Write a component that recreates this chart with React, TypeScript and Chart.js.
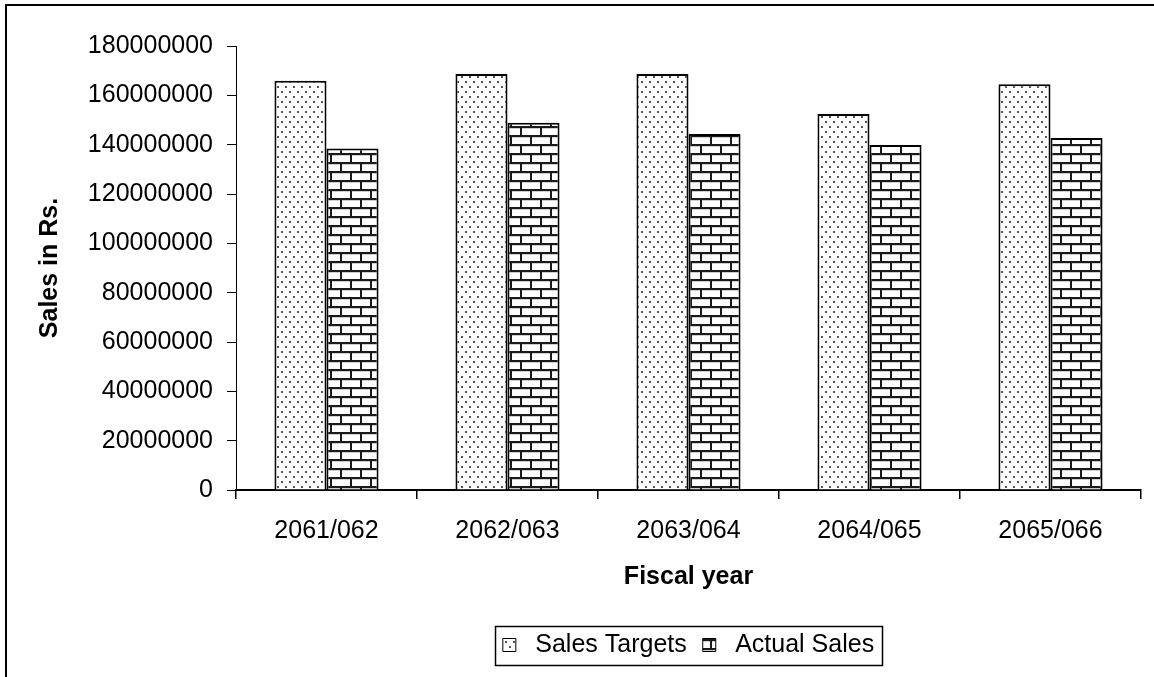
import React, { useEffect, useRef } from "react";
import { Chart, registerables } from "chart.js";

Chart.register(...registerables);

const categories = ["2061/062", "2062/063", "2063/064", "2064/065", "2065/066"];
const salesTargets = [165900000, 168600000, 168600000, 152400000, 164500000];
const actualSales = [138400000, 148900000, 144300000, 139900000, 142700000];
const seriesNames = ["Sales Targets", "Actual Sales"];
const yMax = 180000000;
const yStep = 20000000;

const FONT = "'Liberation Sans', Arial, sans-serif";
const FS = 25;

function makeDots(): CanvasPattern | string {
  const c = document.createElement("canvas");
  c.width = 8;
  c.height = 10;
  const g = c.getContext("2d");
  if (!g) return "#fff";
  g.fillStyle = "#ffffff";
  g.fillRect(0, 0, 8, 10);
  g.fillStyle = "#555555";
  g.fillRect(1, 1, 2, 2);
  g.fillRect(5, 6, 2, 2);
  return g.createPattern(c, "repeat") || "#fff";
}

function makeBricks(): CanvasPattern | string {
  const c = document.createElement("canvas");
  c.width = 20;
  c.height = 18;
  const g = c.getContext("2d");
  if (!g) return "#fff";
  g.fillStyle = "#ffffff";
  g.fillRect(0, 0, 20, 18);
  g.fillStyle = "#cfcfcf";
  g.fillRect(0, 2, 20, 1);
  g.fillRect(0, 11, 20, 1);
  g.fillStyle = "#1a1a1a";
  g.fillRect(0, 0, 20, 2);
  g.fillRect(0, 9, 20, 2);
  g.fillRect(0, 2, 2, 7);
  g.fillRect(10, 11, 2, 7);
  return g.createPattern(c, "repeat") || "#fff";
}

const framePlugin = {
  id: "frame",
  beforeDraw(chart: any) {
    const ctx = chart.ctx;
    ctx.save();
    ctx.fillStyle = "#ffffff";
    ctx.fillRect(0, 0, chart.width, chart.height);
    ctx.strokeStyle = "#000000";
    ctx.lineWidth = 2;
    ctx.strokeRect(6, 5, chart.width + 40, chart.height + 40);
    ctx.restore();
  },
  afterLayout(chart: any) {
    const lg = chart.legend;
    if (lg) {
      lg.left = chart.chartArea.left;
      lg.right = chart.chartArea.right;
    }
  },
  afterDraw(chart: any) {
    const lg = chart.legend;
    if (!lg || !lg.legendHitBoxes || !lg.legendHitBoxes.length) return;
    const hb = lg.legendHitBoxes;
    let l = Infinity, r = -Infinity, t = Infinity, b = -Infinity;
    hb.forEach((h: any) => {
      l = Math.min(l, h.left);
      r = Math.max(r, h.left + h.width);
      t = Math.min(t, h.top);
      b = Math.max(b, h.top + h.height);
    });
    const ctx = chart.ctx;
    ctx.save();
    ctx.strokeStyle = "#000000";
    ctx.lineWidth = 1.5;
    ctx.strokeRect(Math.round(l - 8) + 0.5, Math.round(t - 7) + 0.5, Math.round(r - l + 16), Math.round(b - t + 14));
    ctx.restore();
  },
};

export default function App() {
  const ref = useRef<HTMLCanvasElement>(null);

  useEffect(() => {
    if (!ref.current) return;
    const dots = makeDots();
    const bricks = makeBricks();
    const chart = new Chart(ref.current, {
      type: "bar",
      data: {
        labels: categories,
        datasets: [
          {
            label: seriesNames[0],
            data: salesTargets,
            backgroundColor: dots as any,
            borderColor: "#000000",
            borderWidth: 2,
            categoryPercentage: 0.575,
            barPercentage: 1,
          },
          {
            label: seriesNames[1],
            data: actualSales,
            backgroundColor: bricks as any,
            borderColor: "#000000",
            borderWidth: 2,
            categoryPercentage: 0.575,
            barPercentage: 1,
          },
        ],
      },
      options: {
        responsive: false,
        animation: false,
        layout: { padding: { left: 0, right: 13, top: 46, bottom: 9.5 } },
        plugins: {
          tooltip: { enabled: false },
          legend: {
            position: "bottom",
            labels: {
              color: "#000000",
              font: { family: FONT, size: FS },
              boxWidth: 13,
              boxHeight: 13,
              padding: 16,
              generateLabels(chart: any) {
                const items = Chart.defaults.plugins.legend.labels.generateLabels(chart);
                items.forEach((it: any) => {
                  it.text = " " + it.text;
                  it.lineWidth = 1;
                });
                return items;
              },
            },
          },
        },
        scales: {
          x: {
            afterFit(scale: any) {
              scale.height = 126.5;
            },
            grid: {
              display: true,
              drawOnChartArea: false,
              drawTicks: true,
              tickLength: 9,
              color: "#000000",
              lineWidth: 1.5,
              offset: true,
            },
            border: { display: true, color: "#000000", width: 2 },
            ticks: {
              color: "#000000",
              font: { family: FONT, size: FS },
              padding: 17,
              maxRotation: 0,
            },
            title: {
              display: true,
              text: "Fiscal year",
              color: "#000000",
              font: { family: FONT, size: FS, weight: "bold" },
              padding: { top: 0, bottom: 24.5 },
            },
          },
          y: {
            min: 0,
            max: yMax,
            afterFit(scale: any) {
              scale.width = 236;
            },
            grid: {
              display: true,
              drawOnChartArea: false,
              drawTicks: true,
              tickLength: 9,
              color: "#000000",
              lineWidth: 1,
            },
            border: { display: true, color: "#000000", width: 1 },
            ticks: {
              stepSize: yStep,
              color: "#000000",
              font: { family: FONT, size: FS },
              padding: 14,
              callback: (v: any) => String(v),
            },
            title: {
              display: true,
              text: "Sales in Rs.",
              color: "#000000",
              font: { family: FONT, size: FS, weight: "bold" },
              padding: { top: 35, bottom: 0 },
            },
          },
        },
      },
      plugins: [framePlugin],
    });
    return () => chart.destroy();
  }, []);

  return (
    <div style={{ position: "absolute", left: 0, top: 0, width: 1154, height: 677 }}>
      <canvas ref={ref} width={1154} height={677} />
    </div>
  );
}
